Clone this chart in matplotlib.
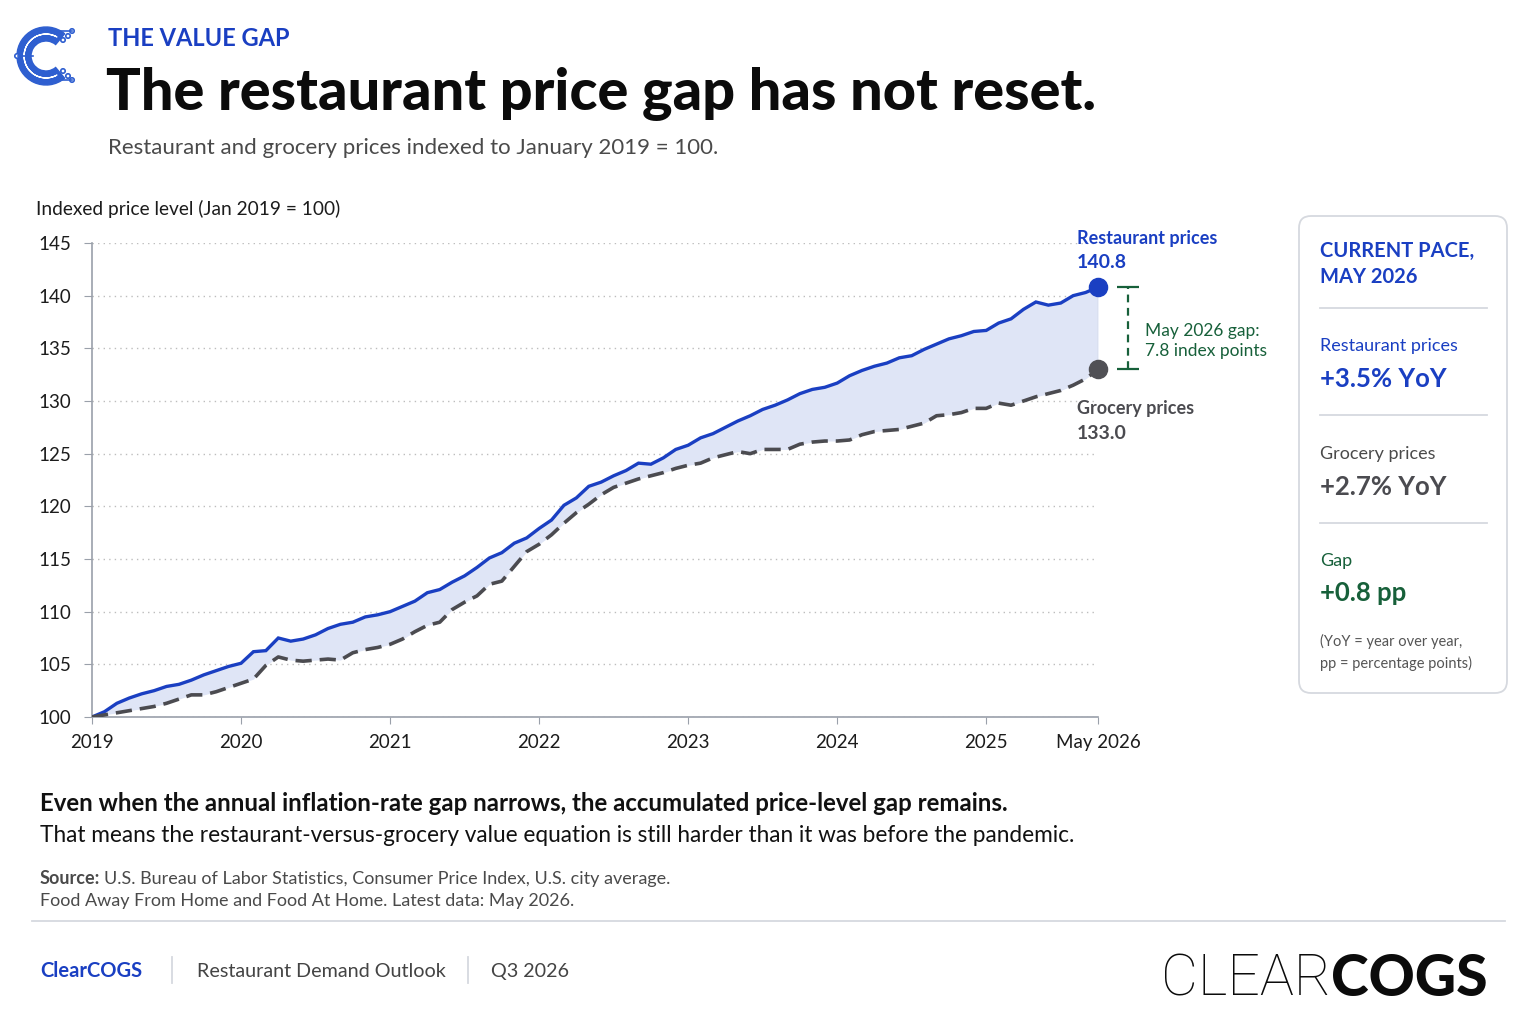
import numpy as np
import matplotlib
matplotlib.use("Agg")
import matplotlib.pyplot as plt
from matplotlib.patches import FancyBboxPatch, Wedge, Circle
from matplotlib import transforms

plt.rcParams['font.family'] = ['Lato', 'DejaVu Sans']

# monthly index, Jan 2019 = 100
restaurant = [100.0, 100.5, 101.3, 101.8, 102.2, 102.5, 102.9, 103.1, 103.5, 104.0,
              104.4, 104.8, 105.1, 106.2, 106.3, 107.5, 107.2, 107.4, 107.8, 108.4,
              108.8, 109.0, 109.5, 109.7, 110.0, 110.5, 111.0, 111.8, 112.1, 112.8,
              113.4, 114.2, 115.1, 115.6, 116.5, 117.0, 117.9, 118.7, 120.1, 120.8,
              121.9, 122.3, 122.9, 123.4, 124.1, 124.0, 124.6, 125.4, 125.8, 126.5,
              126.9, 127.5, 128.1, 128.6, 129.2, 129.6, 130.1, 130.7, 131.1, 131.3,
              131.7, 132.4, 132.9, 133.3, 133.6, 134.1, 134.3, 134.9, 135.4, 135.9,
              136.2, 136.6, 136.7, 137.4, 137.8, 138.7, 139.4, 139.1, 139.3, 140.0,
              140.3, 140.8]
grocery = [100.0, 100.2, 100.4, 100.6, 100.8, 101.0, 101.3, 101.7, 102.1, 102.1,
           102.4, 102.8, 103.2, 103.6, 104.9, 105.7, 105.4, 105.3, 105.4, 105.5,
           105.4, 106.1, 106.4, 106.6, 106.9, 107.4, 108.1, 108.7, 109.0, 110.2,
           110.9, 111.5, 112.6, 112.9, 114.3, 115.7, 116.4, 117.3, 118.4, 119.4,
           120.2, 121.1, 121.8, 122.2, 122.6, 122.9, 123.2, 123.6, 123.9, 124.1,
           124.6, 124.9, 125.2, 125.0, 125.4, 125.4, 125.4, 125.9, 126.1, 126.2,
           126.2, 126.3, 126.8, 127.1, 127.2, 127.3, 127.6, 127.9, 128.6, 128.7,
           128.9, 129.3, 129.3, 129.8, 129.6, 130.0, 130.4, 130.7, 131.0, 131.5,
           132.1, 133.0]
tick_pos = [0, 12, 24, 36, 48, 60, 72, 81]
tick_lbl = ["2019", "2020", "2021", "2022", "2023", "2024", "2025", "May 2026"]
yticks = list(range(100, 146, 5))

BLUE = "#1a3fc2"
GREEN = "#17603a"
GREY = "#4b4b50"
LIGHT = "#d6d9df"

x = np.arange(len(restaurant))
r = np.array(restaurant)
g = np.array(grocery)

fig = plt.figure(figsize=(15.36, 10.24), dpi=100)

# overlay in pixel coordinates for all the layout text
bg = fig.add_axes([0, 0, 1, 1], zorder=0)
bg.set_xlim(0, 1536)
bg.set_ylim(1024, 0)
bg.axis("off")

ax = fig.add_axes([92/1536, 1-717/1024, 1006/1536, 474/1024], zorder=1)
ax.patch.set_alpha(0)
ax.fill_between(x, r, g, color="#dfe5f6", lw=0, zorder=1)
ax.plot(x, r, color=BLUE, lw=2.4, zorder=3, solid_joinstyle="miter")
ax.plot(x, g, color=GREY, lw=2.6, ls=(0, (4.5, 2.2)), zorder=3)
ax.plot([x[-1], x[-1]], [g[-1], r[-1]], color="#c9cdd8", lw=1, zorder=2)
ax.scatter([x[-1]], [r[-1]], s=170, color=BLUE, zorder=4, clip_on=False)
ax.scatter([x[-1]], [g[-1]], s=170, color="#505055", zorder=4, clip_on=False)

ax.set_xlim(0, x[-1])
ax.set_ylim(100, 145)
ax.set_yticks(yticks)
ax.set_xticks(tick_pos)
ax.set_xticklabels(tick_lbl)
ax.yaxis.grid(True, ls=(0, (1, 3)), color="#bdbdbd", lw=1)
ax.set_axisbelow(True)
for s in ["top", "right"]:
    ax.spines[s].set_visible(False)
for s in ["left", "bottom"]:
    ax.spines[s].set_color("#9aa0aa")
    ax.spines[s].set_linewidth(1.2)
ax.tick_params(axis="y", length=6, color="#9aa0aa", pad=9, labelsize=13.5, labelcolor="#1c1c1c")
ax.tick_params(axis="x", length=5, color="#9aa0aa", pad=7, labelsize=13.5, labelcolor="#1c1c1c")

# end labels
ax.annotate("Restaurant prices", xy=(x[-1], r[-1]), xytext=(-15, 35), textcoords="offset points",
            color=BLUE, fontsize=13, fontweight="bold", va="center", ha="left")
ax.annotate(f"{r[-1]:.1f}", xy=(x[-1], r[-1]), xytext=(-15, 18), textcoords="offset points",
            color=BLUE, fontsize=14, fontweight="bold", va="center", ha="left")
ax.annotate("Grocery prices", xy=(x[-1], g[-1]), xytext=(-15, -28), textcoords="offset points",
            color=GREY, fontsize=13, fontweight="bold", va="center", ha="left")
ax.annotate(f"{g[-1]:.1f}", xy=(x[-1], g[-1]), xytext=(-15, -46), textcoords="offset points",
            color=GREY, fontsize=14, fontweight="bold", va="center", ha="left")

# gap bracket
off = transforms.offset_copy(ax.transData, fig=fig, x=30, y=0, units="dots")
ax.plot([x[-1], x[-1]], [g[-1], r[-1]], transform=off, color=GREEN, lw=1.6,
        ls=(0, (3.5, 2.5)), clip_on=False)
ax.plot([x[-1], x[-1]], [g[-1], r[-1]], transform=off, color=GREEN, lw=0,
        marker="_", markersize=16, mew=1.6, clip_on=False)
ax.annotate(f"May 2026 gap:\n{r[-1]-g[-1]:.1f} index points", xy=(x[-1], (r[-1]+g[-1])/2),
            xytext=(34, -9), textcoords="offset points", color=GREEN, fontsize=12.5,
            va="center", ha="left", linespacing=1.35)

# header logo
LOGO = "#2f5fd0"
bg.add_patch(Wedge((46, 56), 29, 50, 310, width=14, color=LOGO))
for yy in [31, 80]:
    bg.plot([56, 72], [yy, yy], color=LOGO, lw=1.2)
for cx, cy in [(72, 31), (68, 36), (63, 40), (63, 71), (68, 76), (72, 80)]:
    bg.add_patch(Circle((cx, cy), 2.2, fc="white", ec=LOGO, lw=1.2))
bg.plot([18, 33], [56, 56], color=LOGO, lw=1.2)
bg.add_patch(Circle((17, 56), 2.2, fc="white", ec=LOGO, lw=1.2))
bg.add_patch(Wedge((46, 56), 22, 60, 300, width=0.1, color="white", lw=0.9))

bg.text(108, 38, "THE VALUE GAP", color=BLUE, fontsize=17, fontweight="bold", va="center")
bg.text(106, 110, "The restaurant price gap has not reset.", color="#0b0b0b", fontsize=41.5,
        fontweight="black", va="baseline")
bg.text(108, 154, "Restaurant and grocery prices indexed to January 2019 = 100.",
        color="#4a4a4a", fontsize=16, va="baseline")
bg.text(36, 215, "Indexed price level (Jan 2019 = 100)", color="#1c1c1c", fontsize=13.8, va="baseline")

# right card
bg.add_patch(FancyBboxPatch((1299, 216), 208, 477, boxstyle="round,pad=0,rounding_size=12",
                            fc="white", ec=LIGHT, lw=1.3))
bg.text(1320, 257, "CURRENT PACE,", color=BLUE, fontsize=14.5, fontweight="bold", va="baseline")
bg.text(1320, 283, "MAY 2026", color=BLUE, fontsize=14.5, fontweight="bold", va="baseline")
for yy in [308, 415, 523]:
    bg.plot([1320, 1487], [yy, yy], color=LIGHT, lw=1.3)
bg.text(1320, 351, "Restaurant prices", color=BLUE, fontsize=13, va="baseline")
bg.text(1320, 387, "+3.5% YoY", color=BLUE, fontsize=18.5, fontweight="bold", va="baseline")
bg.text(1320, 459, "Grocery prices", color="#4a4a4a", fontsize=13, va="baseline")
bg.text(1320, 495, "+2.7% YoY", color=GREY, fontsize=18.5, fontweight="bold", va="baseline")
bg.text(1320, 566, "Gap", color=GREEN, fontsize=13, va="baseline")
bg.text(1320, 601, "+0.8 pp", color=GREEN, fontsize=18.5, fontweight="bold", va="baseline")
bg.text(1320, 646, "(YoY = year over year,", color="#555555", fontsize=10.5, va="baseline")
bg.text(1320, 668, "pp = percentage points)", color="#555555", fontsize=10.5, va="baseline")

# takeaway + source
bg.text(40, 811, "Even when the annual inflation-rate gap narrows, the accumulated price-level gap remains.",
        color="#111111", fontsize=17.3, fontweight="bold", va="baseline")
bg.text(40, 842, "That means the restaurant-versus-grocery value equation is still harder than it was before the pandemic.",
        color="#111111", fontsize=16.3, va="baseline")

fig.canvas.draw()
rend = fig.canvas.get_renderer()
inv = bg.transData.inverted()

t = bg.text(40, 884, "Source:", color="#4a4a4a", fontsize=13, fontweight="bold", va="baseline")
x1 = inv.transform((t.get_window_extent(rend).x1, 0))[0]
bg.text(x1 + 4, 884, "U.S. Bureau of Labor Statistics, Consumer Price Index, U.S. city average.",
        color="#4a4a4a", fontsize=13, va="baseline")
bg.text(40, 906, "Food Away From Home and Food At Home. Latest data: May 2026.",
        color="#4a4a4a", fontsize=13, va="baseline")
bg.plot([32, 1505], [921, 921], color=LIGHT, lw=1.3)

# footer
bg.text(40, 977, "ClearCOGS", color=BLUE, fontsize=14.5, fontweight="bold", va="baseline")
bg.plot([172, 172], [957, 983], color=LIGHT, lw=1.3)
bg.text(197, 977, "Restaurant Demand Outlook", color="#444444", fontsize=14.2, va="baseline")
bg.plot([468, 468], [957, 983], color=LIGHT, lw=1.3)
bg.text(491, 977, "Q3 2026", color="#444444", fontsize=14.2, va="baseline")

t2 = bg.text(1488, 996, "COGS", color="#0b0b0b", fontsize=41, fontweight="black",
             va="baseline", ha="right")
x0 = inv.transform((t2.get_window_extent(rend).x0, 0))[0]
bg.text(x0, 996, "CLEAR", color="#0b0b0b", fontsize=41, fontweight="light",
        family=["Roboto", "Lato"], va="baseline", ha="right")

fig.savefig("out.png", dpi=100, facecolor="white")
